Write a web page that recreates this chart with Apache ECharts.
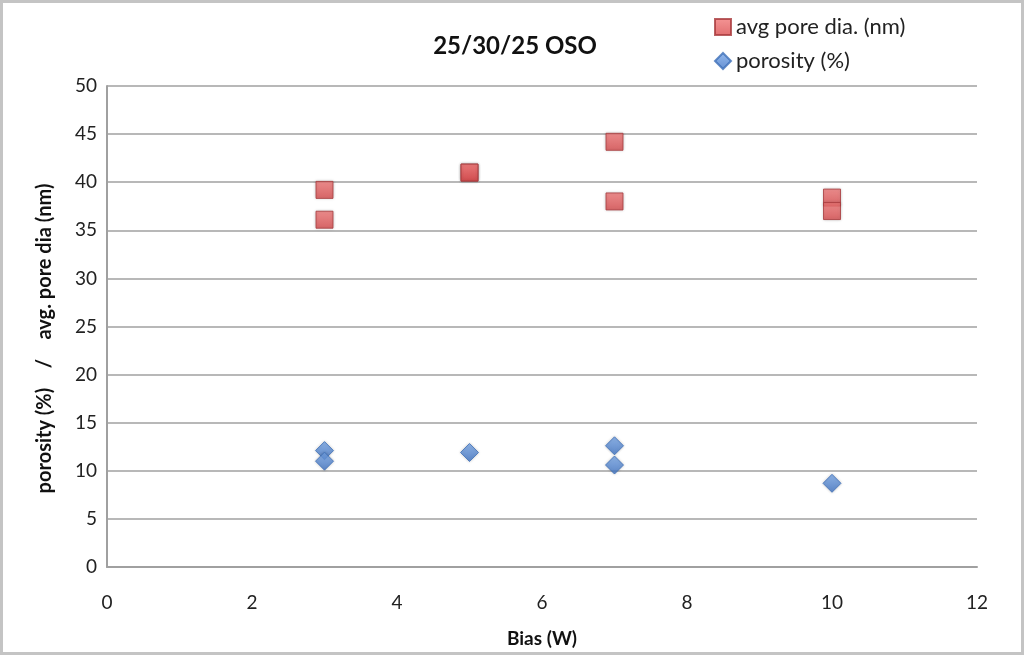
<!DOCTYPE html>
<html><head><meta charset="utf-8">
<script src="https://cdn.jsdelivr.net/npm/echarts@6/dist/echarts.min.js"></script>
<style>html,body{margin:0;padding:0;background:#fff}#c{width:1024px;height:655px;box-sizing:border-box;border:3px solid #c4c4c4}</style>
</head><body><div id="c"></div>
<script>
const titleText = '25/30/25 OSO';
const xName = 'Bias (W)';
const yName = 'porosity (%)    /    avg. pore dia (nm)';
const poreName = 'avg pore dia. (nm)';
const porosityName = 'porosity (%)';
const poreX = [3, 3, 5, 5, 7, 7, 10, 10];
const poreY = [39.2, 36.1, 41, 41, 44.2, 38, 38.4, 37];
const porosityX = [3, 3, 5, 7, 7, 10];
const porosityY = [12.1, 11.0, 11.9, 12.6, 10.6, 8.7];

const font = 'Lato, "Open Sans", sans-serif';
const chart = echarts.init(document.getElementById('c'));
const redFill = new echarts.graphic.LinearGradient(0, 0, 0, 1, [
  { offset: 0, color: '#f27a7a' }, { offset: 1, color: '#d94a4c' }]);
const blueFill = new echarts.graphic.LinearGradient(0, 0, 0, 1, [
  { offset: 0, color: '#7aa8e8' }, { offset: 1, color: '#3f74c6' }]);
chart.setOption({
  animation: false,
  title: { text: titleText, left: 507, top: 26, textAlign: 'center',
    textStyle: { fontFamily: font, fontSize: 24, fontWeight: 'bold', color: '#111' } },
  legend: { orient: 'vertical', left: 706, top: 8, itemGap: 12, itemWidth: 16, itemHeight: 16,
    textStyle: { fontFamily: font, fontSize: 22, color: '#222' },
    data: [ { name: poreName, icon: 'rect' }, { name: porosityName, icon: 'diamond' } ] },
  grid: { left: 104, right: 44, top: 83, bottom: 85, outerBoundsMode: 'none', containLabel: false },
  xAxis: { type: 'value', min: 0, max: 12, interval: 2,
    name: xName, nameLocation: 'middle', nameGap: 62,
    nameTextStyle: { fontFamily: font, fontSize: 19, fontWeight: 'bold', color: '#111' },
    axisLine: { lineStyle: { color: '#a0a0a0', width: 2 } }, axisTick: { show: false },
    axisLabel: { fontFamily: font, fontSize: 19, color: '#222', margin: 26 },
    splitLine: { show: false } },
  yAxis: { type: 'value', min: 0, max: 50, interval: 5,
    name: yName, nameLocation: 'middle', nameGap: 52,
    nameTextStyle: { fontFamily: font, fontSize: 20, fontWeight: 'bold', color: '#111', padding: [0, 24, 0, 0] },
    axisLine: { show: true, lineStyle: { color: '#a0a0a0', width: 2 } },
    axisTick: { show: false },
    axisLabel: { fontFamily: font, fontSize: 19, color: '#222', margin: 10 },
    splitLine: { lineStyle: { color: '#b8b8b8', width: 2 } } },
  series: [
    { name: poreName, type: 'scatter', symbol: 'rect', symbolSize: 17,
      data: poreX.map((x, i) => [x, poreY[i]]),
      itemStyle: { color: redFill, borderColor: '#a83a3c', borderWidth: 1, shadowBlur: 3, shadowColor: 'rgba(0,0,0,0.25)' } },
    { name: porosityName, type: 'scatter', symbol: 'diamond', symbolSize: [18, 18],
      data: porosityX.map((x, i) => [x, porosityY[i]]),
      itemStyle: { color: blueFill, borderColor: '#3d6fb8', borderWidth: 1, shadowBlur: 3, shadowColor: 'rgba(0,0,0,0.25)' } }
  ]
});
</script></body></html>
